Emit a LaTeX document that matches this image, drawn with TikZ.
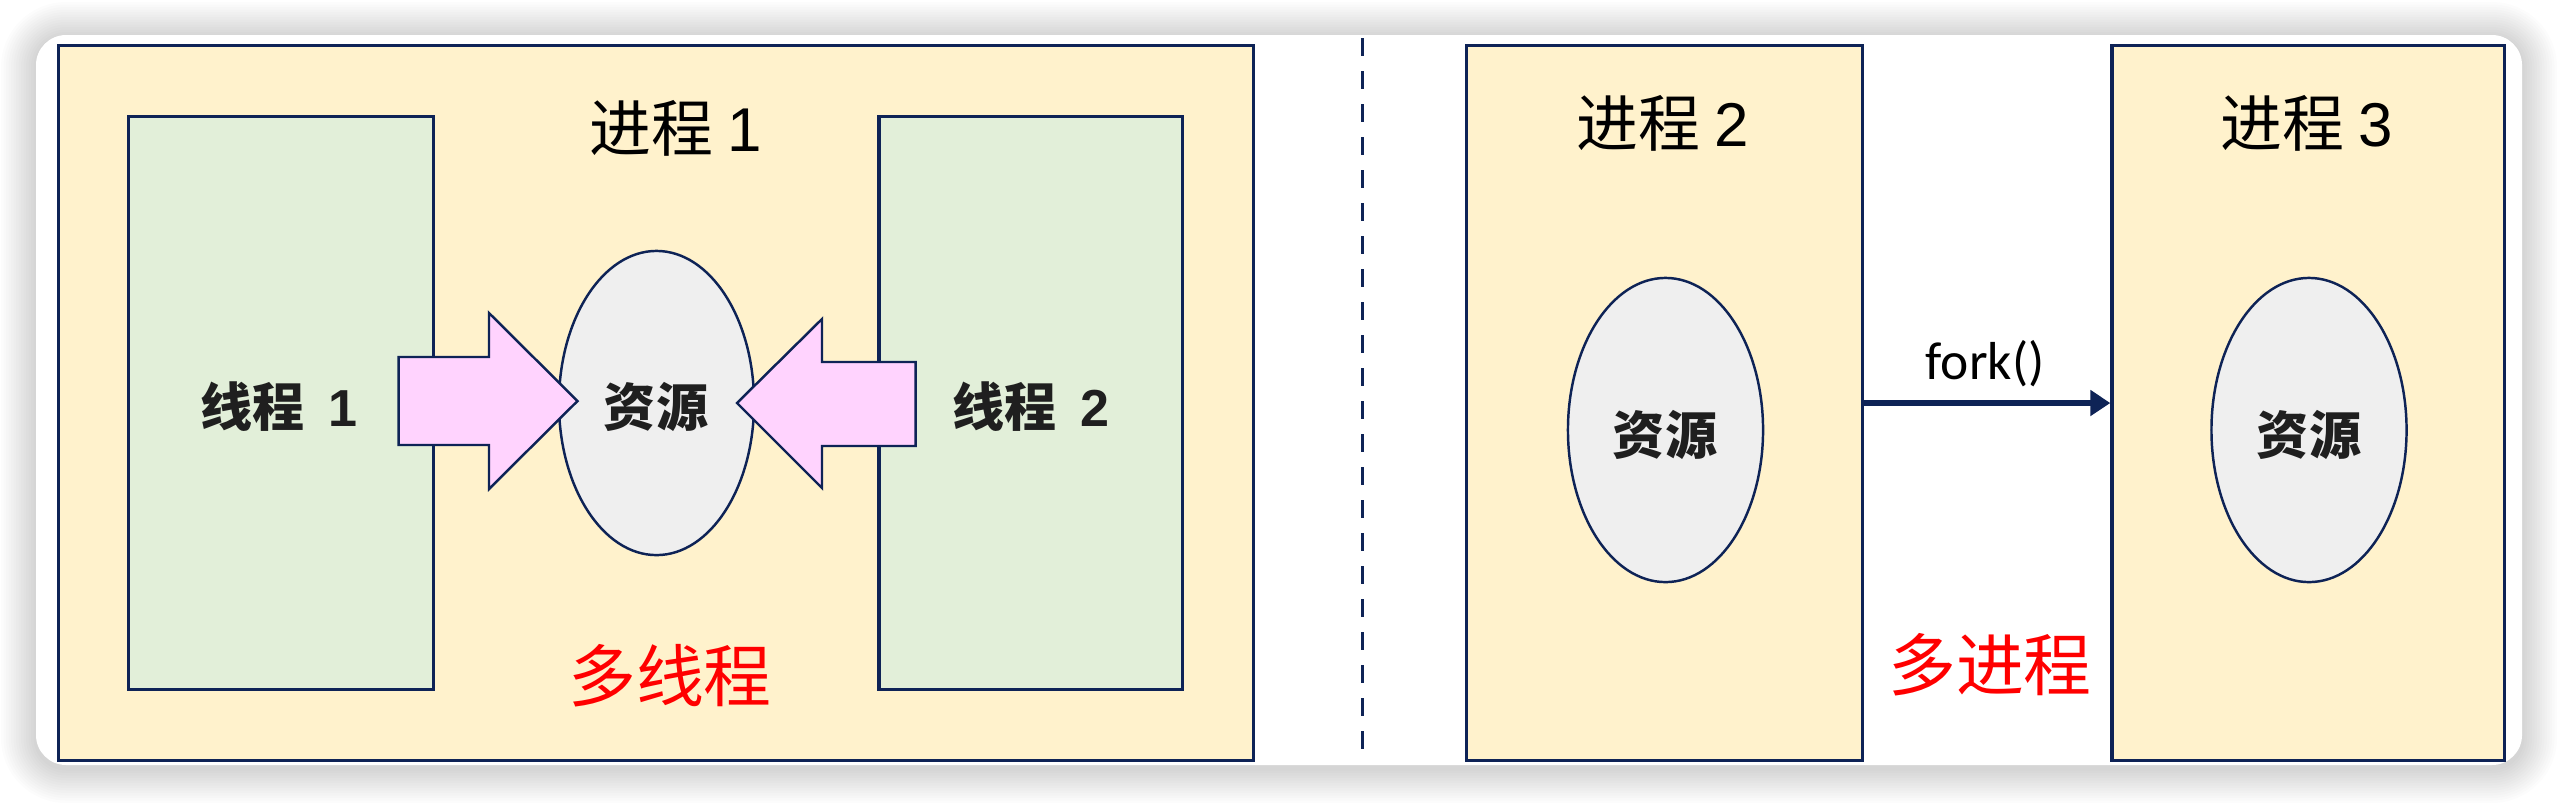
\documentclass[tikz,border=0pt]{standalone}
\usepackage{fontspec}
\newfontfamily\cjk{Noto Sans CJK SC}
\newfontfamily\arialf{Liberation Sans}
\newfontfamily\calfont{Carlito}
\usetikzlibrary{shapes.geometric,arrows.meta}
\definecolor{navy}{HTML}{0E2356}
\definecolor{procfill}{HTML}{FFF2CC}
\definecolor{thrfill}{HTML}{E2EFD9}
\definecolor{resfill}{HTML}{EFEFEF}
\definecolor{pinkfill}{HTML}{FFD3FE}
\definecolor{redtext}{HTML}{FF0000}
\begin{document}
\begin{tikzpicture}[x=0.01cm,y=-0.01cm,
  box/.style={draw=navy, line width=0.9pt, rectangle, inner sep=0pt},
  procbox/.style={box, fill=procfill},
  thrbox/.style={box, fill=thrfill},
  res/.style={ellipse, draw=navy, line width=0.7pt, fill=resfill, minimum width=1.95cm, minimum height=3.04cm, inner sep=0pt},
  blockarrow/.style={draw=navy, line width=0.7pt, fill=pinkfill, line join=miter},
  title/.style={font=\cjk\fontsize{17.6}{20}\selectfont, text=black, inner sep=0pt},
  lbl/.style={font=\cjk\bfseries\fontsize{14.8}{17}\selectfont, text=black!88, inner sep=0pt},
  caption/.style={font=\cjk\fontsize{19.3}{22}\selectfont, text=redtext, inner sep=0pt},
  forkline/.style={draw=navy, line width=1.8pt, -{Triangle[length=0.2cm,width=0.25cm]}},
  divider/.style={draw=navy, line width=0.85pt, dash pattern=on 0.18cm off 0.15cm}
]
\useasboundingbox (0,0) rectangle (2558,802);
% background and soft card shadow
\fill[white] (0,0) rectangle (2558,802);
\foreach \e in {1,...,14}{
  \pgfmathsetmacro\rr{0.30+\e*0.025}
  \fill[black, opacity=0.011, rounded corners=\rr cm] ({36-\e*2.5},{37-\e*2.5}) rectangle ({2522+\e*2.5},{768+\e*2.5});
}
\fill[white, rounded corners=0.3cm] (36,35) rectangle (2522,765);

% process 1 (multi-thread)
\node[procbox, minimum width=11.94cm, minimum height=7.14cm] (p1) at (656,403) {};
\node[thrbox, minimum width=3.05cm, minimum height=5.72cm] (t1) at (281,403) {};
\node[thrbox, minimum width=3.03cm, minimum height=5.72cm] (t2) at (1030.5,403) {};
\node[res] (r1) at (656.5,403) {};
\node[title] (p1title) at (676,128) {进程 {\arialf 1}};
\node[lbl] (t1lbl) at (279,407) {线程~~{\arialf\bfseries 1}};
\node[lbl] (t2lbl) at (1031,407) {线程~~{\arialf\bfseries 2}};
\draw[blockarrow] (398.6,357) -- (489,357) -- (489,313) -- (577.5,401) -- (489,489) -- (489,445) -- (398.6,445) -- cycle;
\draw[blockarrow] (915.7,362) -- (822,362) -- (822,319) -- (737,403) -- (822,488) -- (822,446) -- (915.7,446) -- cycle;
\node[lbl] (r1lbl) at (656,407) {资源};
\node[caption] (cap1) at (670,676) {多线程};

% divider
\coordinate (dtop) at (1362,38);
\coordinate (dbot) at (1362,755);
\draw[divider] (dtop) -- (dbot);

% processes 2 and 3 (multi-process)
\node[procbox, minimum width=3.95cm, minimum height=7.14cm] (p2) at (1664.5,403) {};
\node[procbox, minimum width=3.92cm, minimum height=7.14cm] (p3) at (2308,403) {};
\node[title] (p2title) at (1663,123) {进程 {\arialf 2}};
\node[title] (p3title) at (2307,123) {进程 {\arialf 3}};
\node[res] (r2) at (1665.5,430) {};
\node[res] (r3) at (2309,430) {};
\node[lbl] (r2lbl) at (1665,435) {资源};
\node[lbl] (r3lbl) at (2309,435) {资源};
\draw[forkline] (p2.east) -- (p3.west);
\node[font=\calfont\fontsize{15.2}{17}\selectfont, inner sep=0pt] (forklbl) at (1985,364) {fork()};
\node[caption] (cap2) at (1990,665) {多进程};
\end{tikzpicture}
\end{document}
